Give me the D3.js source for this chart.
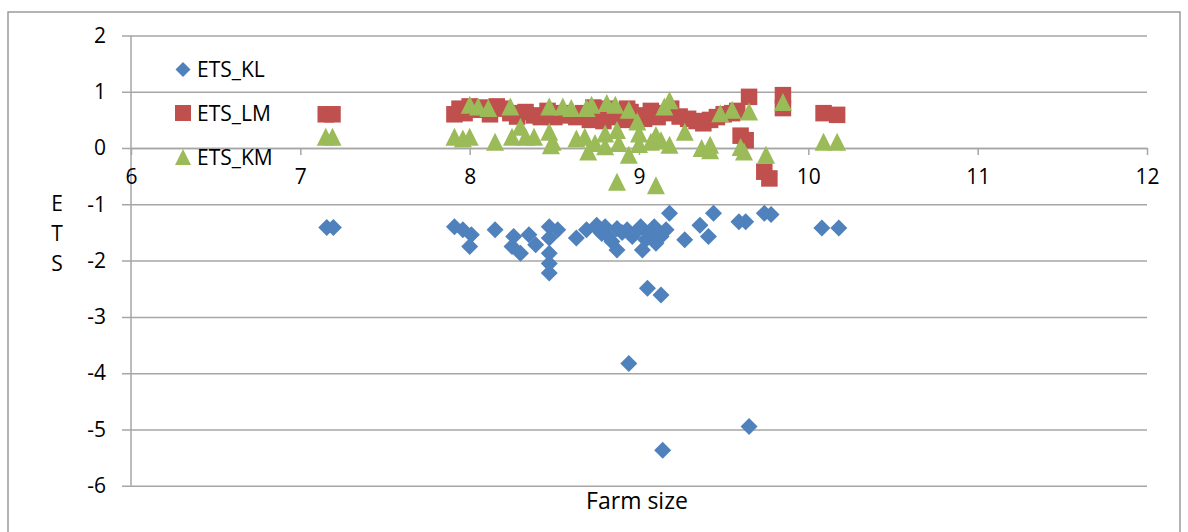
<!DOCTYPE html>
<html>
<head>
<meta charset="utf-8">
<script src="https://cdn.jsdelivr.net/npm/d3@7"></script>
<style>
  html, body { margin: 0; padding: 0; background: #fff; }
  svg { display: block; font-family: "Open Sans", Lato, sans-serif; }
</style>
</head>
<body>
<svg id="chart" width="1188" height="532"></svg>
<script>
// Technical efficiency scores (ETS) against log farm size
const kl_x = [7.156, 7.195, 7.91, 7.96, 8.01, 8.00, 8.15, 8.26, 8.35, 8.25, 8.30, 8.39, 8.47, 8.52, 8.47, 8.47, 8.47, 8.47,
  8.63, 8.69, 8.75, 8.76, 8.78, 8.80, 8.82, 8.84, 8.87, 8.87, 8.90, 8.93, 8.96, 8.98, 9.01, 9.02, 9.04, 9.06, 9.09, 9.10,
  9.13, 9.16, 9.18, 9.27, 9.36, 9.41, 9.44, 9.59, 9.63, 9.74, 9.78, 10.08, 10.18, 9.05, 9.13, 8.94, 9.65, 9.14];
const kl_y = [-1.41, -1.41, -1.40, -1.45, -1.54, -1.75, -1.45, -1.57, -1.54, -1.75, -1.87, -1.72, -1.40, -1.45, -1.60, -1.87, -2.05, -2.22,
  -1.60, -1.45, -1.37, -1.45, -1.52, -1.40, -1.57, -1.66, -1.43, -1.81, -1.50, -1.45, -1.57, -1.50, -1.40, -1.81, -1.63, -1.52, -1.40, -1.69,
  -1.57, -1.45, -1.16, -1.63, -1.37, -1.57, -1.16, -1.31, -1.31, -1.16, -1.18, -1.42, -1.42, -2.49, -2.61, -3.83, -4.95, -5.37];

const lm_x = [7.15, 7.19, 7.91, 7.94, 7.97, 8.00, 8.04, 8.08, 8.12, 8.16, 8.20, 8.24, 8.28, 8.33, 8.38, 8.42, 8.46, 8.50,
  8.54, 8.58, 8.63, 8.67, 8.71, 8.73, 8.75, 8.79, 8.81, 8.83, 8.87, 8.91, 8.93, 8.95, 8.99, 9.03, 9.07, 9.11, 9.15, 9.19,
  9.24, 9.29, 9.34, 9.38, 9.42, 9.46, 9.50, 9.55, 9.58, 9.60, 9.63, 9.65, 9.74, 9.77, 9.85, 9.85, 10.09, 10.17];
const lm_y = [0.60, 0.60, 0.60, 0.70, 0.62, 0.74, 0.68, 0.72, 0.60, 0.74, 0.70, 0.62, 0.56, 0.64, 0.58, 0.55, 0.66, 0.55,
  0.62, 0.58, 0.55, 0.62, 0.50, 0.72, 0.58, 0.48, 0.70, 0.62, 0.55, 0.50, 0.70, 0.64, 0.58, 0.52, 0.66, 0.55, 0.62, 0.70,
  0.56, 0.52, 0.48, 0.44, 0.50, 0.55, 0.60, 0.62, 0.66, 0.22, 0.14, 0.91, -0.42, -0.54, 0.94, 0.71, 0.62, 0.59];

const km_x = [7.15, 7.19, 7.91, 7.96, 8.00, 8.00, 8.05, 8.11, 8.15, 8.24, 8.25, 8.30, 8.33, 8.38, 8.47, 8.47, 8.48, 8.49,
  8.55, 8.60, 8.63, 8.68, 8.69, 8.70, 8.72, 8.74, 8.80, 8.80, 8.81, 8.86, 8.87, 8.87, 8.88, 8.94, 8.94, 8.99, 9.00, 9.00,
  9.07, 9.10, 9.10, 9.13, 9.15, 9.18, 9.18, 9.27, 9.37, 9.42, 9.42, 9.48, 9.55, 9.60, 9.62, 9.65, 9.75, 9.85, 10.09, 10.17];
const km_y = [0.20, 0.20, 0.20, 0.17, 0.20, 0.77, 0.74, 0.71, 0.11, 0.74, 0.20, 0.38, 0.20, 0.20, 0.74, 0.29, 0.05, 0.11,
  0.74, 0.71, 0.17, 0.20, 0.71, -0.06, 0.77, 0.09, 0.26, 0.03, 0.80, 0.77, 0.32, -0.60, 0.09, 0.68, -0.12, 0.47, 0.26, 0.07,
  0.11, 0.23, -0.66, 0.14, 0.74, 0.85, 0.06, 0.29, 0.00, 0.06, -0.04, 0.62, 0.68, 0.02, -0.06, 0.65, -0.12, 0.82, 0.11, 0.11];

const xTicks = [6, 7, 8, 9, 10, 11, 12];
const yTicks = [2, 1, 0, -1, -2, -3, -4, -5, -6];
const seriesNames = ["ETS_KL", "ETS_LM", "ETS_KM"];
const seriesColors = ["#4F81BD", "#C0504D", "#9BBB59"];

const svg = d3.select("#chart");
const x = d3.scaleLinear().domain([6, 12]).range([131, 1147]);
const y = d3.scaleLinear().domain([-6, 2]).range([485.7, 35.5]);
const gridColor = "#a6a6a6";
const plainNum = d => String(d);   // hyphen-minus for negatives

// chart frame
svg.append("rect").attr("x", 8).attr("y", 12).attr("width", 1172).attr("height", 540)
  .attr("fill", "none").attr("stroke", "#8c8c8c").attr("stroke-width", 1.3);

// horizontal gridlines with outside tick stubs
const yAxis = d3.axisLeft(y).tickValues(yTicks).tickSize(-(1147 - 131)).tickSizeOuter(0).tickFormat(plainNum);
const gy = svg.append("g").attr("transform", "translate(131,0)").call(yAxis);
gy.select(".domain").remove();
gy.selectAll(".tick line").attr("x1", -9).attr("stroke", gridColor).attr("stroke-width", 1.5);
gy.selectAll(".tick text").attr("font-size", 21).attr("fill", "#000").attr("font-family", "'Open Sans', sans-serif")
  .attr("x", -25);

// vertical axis line
svg.append("line").attr("x1", 131).attr("x2", 131).attr("y1", y(2)).attr("y2", y(-6))
  .attr("stroke", gridColor).attr("stroke-width", 1.5);

// horizontal axis crossing at zero
const xAxis = d3.axisBottom(x).tickValues(xTicks).tickSize(7).tickSizeOuter(0).tickPadding(14).tickFormat(plainNum);
const gx = svg.append("g").attr("transform", `translate(0,${y(0)})`).call(xAxis);
gx.select(".domain").attr("stroke", gridColor).attr("stroke-width", 1.5);
gx.selectAll(".tick line").attr("stroke", gridColor).attr("stroke-width", 1.5);
gx.selectAll(".tick text").attr("font-size", 21).attr("fill", "#000").attr("font-family", "'Open Sans', sans-serif");

// marker shapes
const diamond = { draw(ctx, size) { const r = Math.sqrt(size) / 2;
  ctx.moveTo(0, -r); ctx.lineTo(r, 0); ctx.lineTo(0, r); ctx.lineTo(-r, 0); ctx.closePath(); } };
const square = { draw(ctx, size) { const r = Math.sqrt(size) / 2;
  ctx.rect(-r, -r, 2 * r, 2 * r); } };
const triangle = { draw(ctx, size) { const r = Math.sqrt(size) / 2;
  ctx.moveTo(0, -r); ctx.lineTo(r, r); ctx.lineTo(-r, r); ctx.closePath(); } };
const shapes = [diamond, square, triangle];
const sizes = [17 * 17, 16.5 * 16.5, 18 * 18];

const series = [
  d3.zip(kl_x, kl_y),
  d3.zip(lm_x, lm_y),
  d3.zip(km_x, km_y)
];

series.forEach((pts, i) => {
  const sym = d3.symbol().type(shapes[i]).size(sizes[i]);
  svg.append("g").selectAll("path").data(pts).join("path")
    .attr("d", sym)
    .attr("transform", d => `translate(${x(d[0])},${y(d[1])})`)
    .attr("fill", seriesColors[i]);
});

// legend
const legendY = [69.5, 113, 157];
const lg = svg.append("g");
seriesNames.forEach((name, i) => {
  const sym = d3.symbol().type(shapes[i]).size(i === 0 ? 15 * 15 : 16 * 16);
  lg.append("path").attr("d", sym).attr("transform", `translate(183,${legendY[i]})`).attr("fill", seriesColors[i]);
  lg.append("text").attr("x", 197).attr("y", legendY[i]).attr("dy", "0.36em")
    .attr("font-size", 21).attr("fill", "#000").text(name);
});

// axis titles
svg.append("text").attr("x", 637).attr("y", 501).attr("dy", "0.36em").attr("text-anchor", "middle")
  .attr("font-size", 23).attr("fill", "#000").text("Farm size");
["E", "T", "S"].forEach((ch, i) => {
  svg.append("text").attr("x", 57).attr("y", 203 + i * 30).attr("dy", "0.36em").attr("text-anchor", "middle")
    .attr("font-size", 21).attr("fill", "#000").text(ch);
});
</script>
</body>
</html>
